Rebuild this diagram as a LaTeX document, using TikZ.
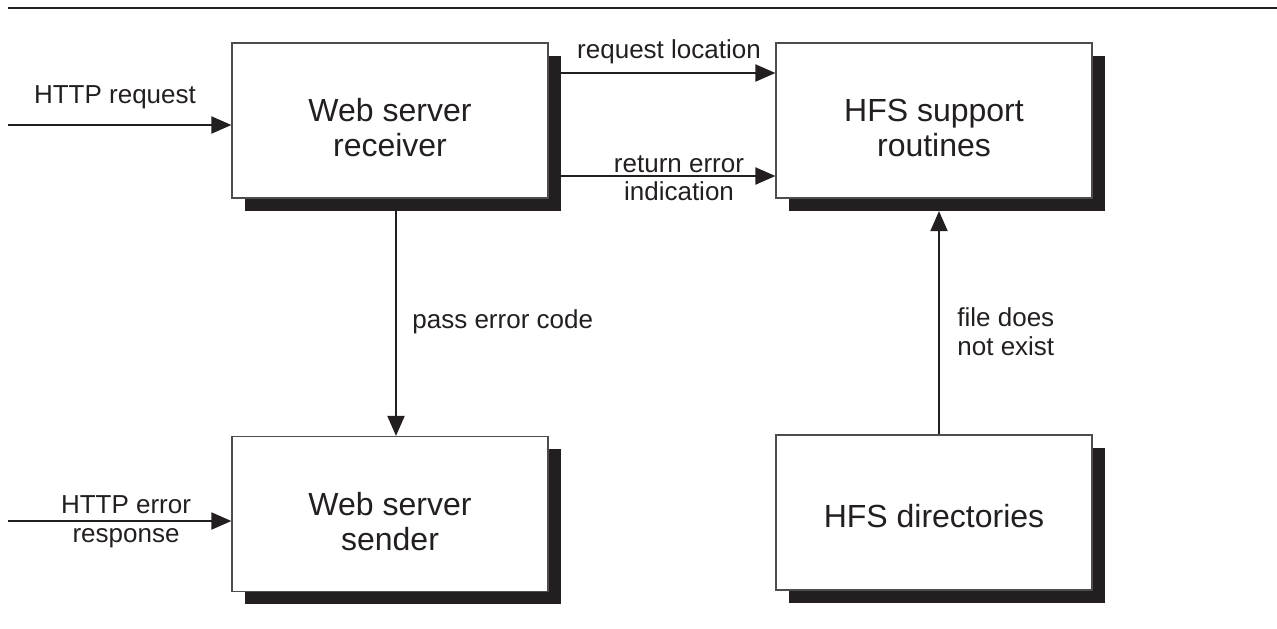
\documentclass[tikz,border=0pt]{standalone}
\usepackage{fontspec}
\setmainfont{Liberation Sans}
\usetikzlibrary{arrows.meta,shadows}
\definecolor{ink}{RGB}{35,31,32}

\begin{document}
\begin{tikzpicture}[%
x=0.5pt, y=-0.5pt,
box/.style={draw=ink!80, line width=0.6pt, fill=white, align=center,
  minimum width=158pt, minimum height=77.5pt, inner sep=0pt, text=ink,
  font=\fontsize{16}{17.5}\selectfont,
  drop shadow={shadow xshift=6.25pt, shadow yshift=-6.25pt, opacity=1, fill=ink}},
flow/.style={draw=ink, line width=1pt, -{Triangle[length=10pt,width=8.5pt]}},
lbl/.style={inner sep=0pt, text=ink, font=\fontsize{13}{14.5}\selectfont},
]
\useasboundingbox (0,0) rectangle (1277,628);
\draw [ink, line width=1pt] (8,8) -- (1277,8);
%% boxes;
\node [box, text height=36.5pt] (recv) at (390,120.5) {Web server\\receiver};
\node [box, text height=36.5pt] (hfs) at (934,120.5) {HFS support\\routines};
\node [box, text height=36.5pt] (sender) at (390,514) {Web server\\sender};
\node [box, text height=15pt] (dirs) at (934,512.5) {HFS directories};
%% outside ends;
\coordinate (src) at (8,125);
\coordinate (errout) at (8,521);
%% arrows;
\draw [flow] (src) -- (src -| recv.west);
\draw [flow] ([shift={(6.25pt,23.75pt)}]recv.east) -- ([yshift=23.75pt]hfs.west);
\draw [flow] ([shift={(6.25pt,-27.75pt)}]recv.east) -- ([yshift=-27.75pt]hfs.west);
\draw [flow] ([shift={(3pt,-6.25pt)}]recv.south) -- ([xshift=3pt]sender.north);
\draw [flow] ([xshift=2.5pt]dirs.north) -- ([shift={(2.5pt,-6.25pt)}]hfs.south);
\draw [flow] (errout) -- (errout -| sender.west);
%% labels;
\node [lbl, anchor=base] (lreq) at (115,103) {HTTP request};
\node [lbl, anchor=base] (lloc) at (669,58) {request location};
\node [lbl, anchor=base, align=center, font=\fontsize{13}{14}\selectfont] (lret) at (679,200) {return error\\indication};
\node [lbl, anchor=base west] (lpass) at (412,328) {pass error code};
\node [lbl, anchor=base west, align=left] (lfile) at (957,355) {file does\\not exist};
\node [lbl, anchor=base, align=center] (lresp) at (126,542) {HTTP error\\response};
\end{tikzpicture}
\end{document}
